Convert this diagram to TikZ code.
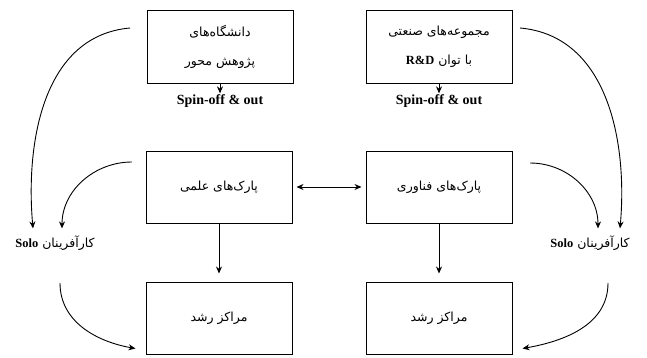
\documentclass[tikz,border=0pt]{standalone}
\usepackage{fontspec}
\setmainfont{Liberation Serif}
\newfontfamily\arabicfont[Script=Arabic]{DejaVu Sans}
\TeXXeTstate=1
\usetikzlibrary{arrows.meta}

\begin{document}
\begin{tikzpicture}[x=1pt, y=1pt,
    box/.style={draw, line width=1pt, minimum width=146pt, minimum height=72pt, inner sep=0pt, align=center, font=\arabicfont\fontsize{12.5}{29}\selectfont},
    lbl/.style={inner sep=1pt, font=\bfseries\fontsize{14}{16}\selectfont},
    solo/.style={inner sep=1pt, font=\arabicfont\fontsize{12.5}{15}\selectfont},
    arr/.style={-{Stealth[length=7pt, width=6pt]}, line width=0.9pt}]
  \useasboundingbox (0,0) rectangle (647,357);

  % Nodes
  \node[box] at (220,310) (uni) {\beginR دانشگاه‌های\endR\\\beginR پژوهش محور\endR};
  \node[box] at (439,310) (ind) {\beginR مجموعه‌های صنعتی\endR\\\beginR با توان \beginL{\rmfamily\bfseries R\&D}\endL\endR};
  \node[lbl] at (220,256) (spin1) {Spin-off \& out};
  \node[lbl] at (439,256) (spin2) {Spin-off \& out};
  \node[box] at (219,170) (sci) {\beginR پارک‌های علمی\endR};
  \node[box] at (439,170) (tech) {\beginR پارک‌های فناوری\endR};
  \node[box] at (219,39) (inc1) {\beginR مراکز رشد\endR};
  \node[box] at (439,39) (inc2) {\beginR مراکز رشد\endR};
  \node[solo] at (55,114) (solo1) {\beginR کارآفرینان \beginL{\rmfamily\bfseries Solo}\endL\endR};
  \node[solo] at (590,114) (solo2) {\beginR کارآفرینان \beginL{\rmfamily\bfseries Solo}\endL\endR};

  \coordinate (lo) at (130,329);
  \coordinate (li) at (132,195);
  \coordinate (ri) at (530,194);
  \coordinate (ro) at (520,329);
  \coordinate (lb) at (60,74);
  \coordinate (rb) at (608,74);

  % Arrows
  \draw[arr] (uni) -- (spin1);
  \draw[arr] (ind) -- (spin2);
  \draw[arr, shorten >=8pt] (sci) -- (inc1);
  \draw[arr, shorten >=8pt] (tech) -- (inc2);
  \draw[arr, {Stealth[length=7pt, width=6pt]}-{Stealth[length=7pt, width=6pt]}, shorten <=4pt, shorten >=4pt] (sci) -- (tech);
  \draw[arr] (lo) to[out=185, in=95] ([xshift=-22pt, yshift=6pt]solo1.north);
  \draw[arr] (li) to[out=180, in=90] ([xshift=7pt, yshift=6pt]solo1.north);
  \draw[arr] (ri) to[out=0, in=90] ([xshift=8pt, yshift=6pt]solo2.north);
  \draw[arr] (ro) to[out=-5, in=85] ([xshift=30pt, yshift=6pt]solo2.north);
  \draw[arr] (lb) to[out=-90, in=170] ([shift={(-10pt,6pt)}]inc1.south west);
  \draw[arr] (rb) to[out=-90, in=10] ([shift={(10pt,6pt)}]inc2.south east);
\end{tikzpicture}
\end{document}
